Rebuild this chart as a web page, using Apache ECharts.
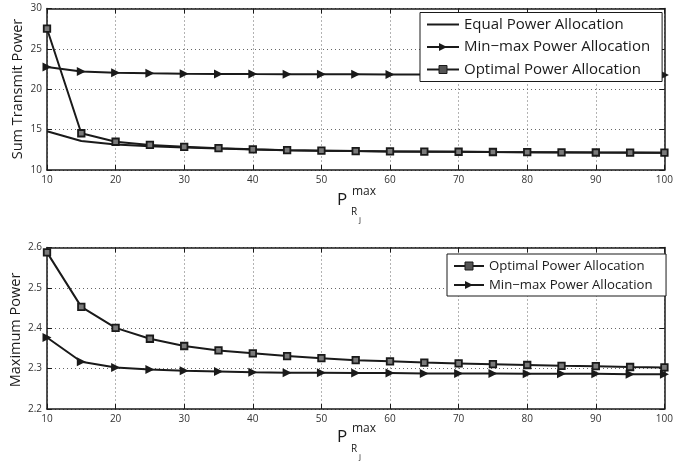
<!DOCTYPE html>
<html>
<head>
<meta charset="utf-8">
<script src="https://cdn.jsdelivr.net/npm/echarts@6/dist/echarts.min.js"></script>
<style>
  html, body { margin: 0; padding: 0; background: #fff; }
  #chart { width: 676px; height: 466px; }
</style>
</head>
<body>
<div id="chart"></div>
<script>
// Relay power budget P_Rj^max (x axis, shared by both panels)
const relayPowerMax = [10, 15, 20, 25, 30, 35, 40, 45, 50, 55, 60, 65, 70, 75, 80, 85, 90, 95, 100];

// Upper panel: sum transmit power
const sumEqual   = [14.8, 13.6, 13.15, 12.95, 12.8, 12.66, 12.55, 12.45, 12.39, 12.34, 12.3, 12.27, 12.25, 12.22, 12.2, 12.18, 12.16, 12.15, 12.14];
const sumMinMax  = [22.75, 22.2, 22.05, 21.97, 21.92, 21.9, 21.88, 21.87, 21.86, 21.85, 21.84, 21.83, 21.82, 21.82, 21.81, 21.81, 21.8, 21.8, 21.78];
const sumOptimal = [27.5, 14.55, 13.5, 13.1, 12.87, 12.7, 12.56, 12.45, 12.39, 12.34, 12.3, 12.28, 12.26, 12.23, 12.21, 12.19, 12.17, 12.16, 12.14];

// Lower panel: maximum power
const maxOptimal = [2.588, 2.453, 2.401, 2.374, 2.356, 2.345, 2.338, 2.331, 2.326, 2.321, 2.318, 2.315, 2.313, 2.311, 2.309, 2.307, 2.306, 2.304, 2.303];
const maxMinMax  = [2.377, 2.317, 2.303, 2.298, 2.295, 2.293, 2.291, 2.290, 2.290, 2.289, 2.289, 2.288, 2.288, 2.288, 2.287, 2.287, 2.287, 2.286, 2.286];

// Axis ranges: [min, max, interval]
const sumTicks = [10, 30, 5];
const maxTicks = [2.2, 2.6, 0.1];
const xTicks = [10, 100, 10];

const FONT = '"Open Sans", "Noto Sans", sans-serif';
const INK = '#1a1a1a';

const EQUAL = 'Equal Power Allocation';
const MINMAX = 'Min\u2212max Power Allocation';
const OPTIMAL = 'Optimal Power Allocation';

function pairs(ys) { return relayPowerMax.map((x, i) => [x, ys[i]]); }

function xAxes(gridIndex) {
  const base = {
    type: 'value', gridIndex, min: xTicks[0], max: xTicks[1], interval: xTicks[2],
    axisLine: { show: true, onZero: false, lineStyle: { color: INK, width: 1.5 } },
    axisTick: { show: true, inside: true, length: 5, lineStyle: { color: INK, width: 1 } },
    splitLine: { show: false }
  };
  return [
    Object.assign({}, base, {
      position: 'bottom',
      axisLabel: { color: '#333', fontSize: 10, fontFamily: FONT, margin: 5 },
      splitLine: { show: true, lineStyle: { color: '#666', type: [1, 3], width: 1 } }
    }),
    Object.assign({}, base, { position: 'top', axisLabel: { show: false } })
  ];
}

function yAxes(gridIndex, t, fmt) {
  const base = {
    type: 'value', gridIndex, min: t[0], max: t[1], interval: t[2],
    axisLine: { show: true, onZero: false, lineStyle: { color: INK, width: 1.5 } },
    axisTick: { show: true, inside: true, length: 5, lineStyle: { color: INK, width: 1 } },
    splitLine: { show: false }
  };
  return [
    Object.assign({}, base, {
      position: 'left',
      axisLabel: { color: '#333', fontSize: 10, fontFamily: FONT, margin: 5, formatter: fmt },
      splitLine: { show: true, lineStyle: { color: '#666', type: [1, 3], width: 1 } }
    }),
    Object.assign({}, base, { position: 'right', axisLabel: { show: false } })
  ];
}

const squareMark = {
  symbol: 'rect', symbolSize: 6.5,
  itemStyle: { color: '#7a7a7a', borderColor: INK, borderWidth: 1.8 }
};
const triangleMark = {
  symbol: 'triangle', symbolSize: [9, 9], symbolRotate: -90,
  itemStyle: { color: INK, borderColor: INK, borderWidth: 0 }
};

function lineSeries(name, ys, xi, yi, mark) {
  return Object.assign({
    name, type: 'line', xAxisIndex: xi, yAxisIndex: yi,
    data: pairs(ys), showSymbol: true, symbol: 'none',
    lineStyle: { color: INK, width: 2 },
    itemStyle: { color: INK },
    emphasis: { disabled: true }, animation: false, z: 3
  }, mark || {});
}

function xTitle(dy) {
  return [
    { type: 'text', x: 342, y: 200 + dy, style: { text: 'P', font: '17px ' + FONT, fill: INK, align: 'center', verticalAlign: 'middle' } },
    { type: 'text', x: 364, y: 192 + dy, style: { text: 'max', font: '12px ' + FONT, fill: INK, align: 'center', verticalAlign: 'middle' } },
    { type: 'text', x: 354, y: 212 + dy, style: { text: 'R', font: '10px ' + FONT, fill: INK, align: 'center', verticalAlign: 'middle' } },
    { type: 'text', x: 360, y: 220 + dy, style: { text: 'j', font: '8px ' + FONT, fill: INK, align: 'center', verticalAlign: 'middle' } }
  ];
}

// Legend swatch for the square-marked series: small dark square on the line
const legendSquare = { itemStyle: { color: '#555', borderColor: INK, borderWidth: 1 } };

const chart = echarts.init(document.getElementById('chart'), null, { renderer: 'canvas' });
chart.setOption({
  animation: false,
  backgroundColor: '#fff',
  grid: [
    { left: 47, right: 6, top: 8.5, height: 161.5, show: false },
    { left: 47, right: 6, top: 247.5, height: 161.5, show: false }
  ],
  xAxis: [].concat(xAxes(0), xAxes(1)),
  yAxis: [].concat(
    yAxes(0, sumTicks, v => String(Math.round(v))),
    yAxes(1, maxTicks, v => v.toFixed(1))
  ),
  legend: [
    {
      data: [
        { name: EQUAL, itemStyle: { color: 'rgba(0,0,0,0)', borderWidth: 0 } },
        { name: MINMAX },
        Object.assign({ name: OPTIMAL }, legendSquare)
      ],
      orient: 'vertical', left: 420, top: 12.5,
      padding: [4, 12, 4, 6], itemGap: 6.5, itemWidth: 32, itemHeight: 10,
      backgroundColor: '#fff', borderColor: INK, borderWidth: 1, borderRadius: 0,
      textStyle: { fontSize: 15, fontFamily: FONT, color: INK, lineHeight: 16 },
      selectedMode: false
    },
    {
      data: [
        Object.assign({ name: OPTIMAL + ' ' }, legendSquare),
        { name: MINMAX + ' ' }
      ],
      orient: 'vertical', left: 447, top: 254,
      padding: [4, 10, 3, 6], itemGap: 3, itemWidth: 30, itemHeight: 10,
      backgroundColor: '#fff', borderColor: INK, borderWidth: 1, borderRadius: 0,
      textStyle: { fontSize: 13.2, fontFamily: FONT, color: INK, lineHeight: 16 },
      selectedMode: false
    }
  ],
  series: [
    lineSeries(EQUAL, sumEqual, 0, 0),
    lineSeries(MINMAX, sumMinMax, 0, 0, triangleMark),
    lineSeries(OPTIMAL, sumOptimal, 0, 0, squareMark),
    lineSeries(OPTIMAL + ' ', maxOptimal, 2, 2, squareMark),
    lineSeries(MINMAX + ' ', maxMinMax, 2, 2, triangleMark)
  ],
  graphic: [
    { type: 'text', x: 18, y: 89, rotation: Math.PI / 2, style: { text: 'Sum Transmit Power', font: '14.5px ' + FONT, fill: INK, align: 'center', verticalAlign: 'middle' } },
    { type: 'text', x: 16, y: 330, rotation: Math.PI / 2, style: { text: 'Maximum Power', font: '14.5px ' + FONT, fill: INK, align: 'center', verticalAlign: 'middle' } }
  ].concat(xTitle(0), xTitle(237))
});
</script>
</body>
</html>
